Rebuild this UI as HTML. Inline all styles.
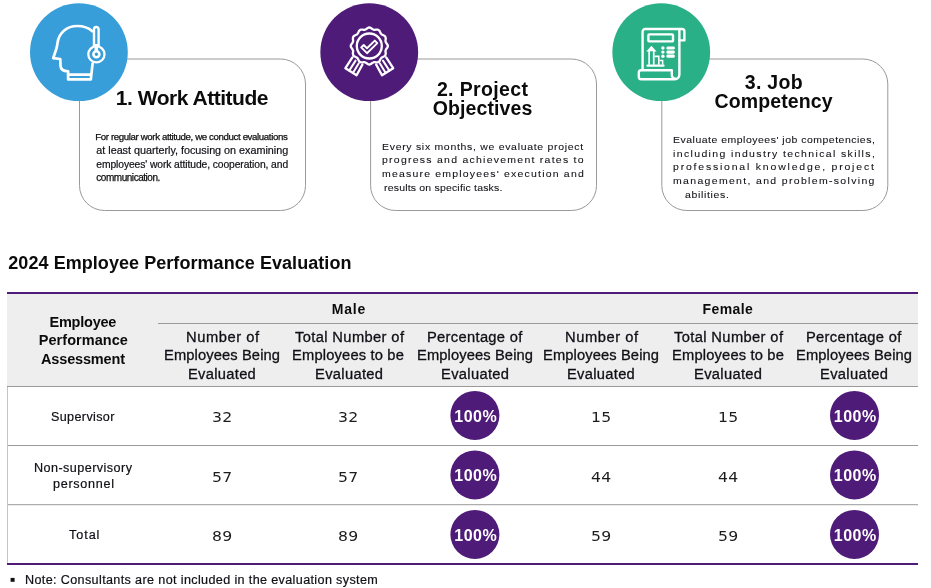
<!DOCTYPE html>
<html lang="en">
<head>
<meta charset="utf-8">
<title>2024 Employee Performance Evaluation</title>
<style>
html,body{margin:0;padding:0;background:#fff;}
body{width:931px;height:588px;position:relative;overflow:hidden;font-family:"Liberation Sans",sans-serif;color:#121212;}
.abs{position:absolute;}
.t{position:absolute;white-space:pre;line-height:40px;transform-origin:0 0;font-family:"Liberation Sans",sans-serif;color:#141414;}
.b{font-weight:bold;color:#0b0b0b;}
.n{font-family:"DejaVu Sans","Liberation Sans",sans-serif;color:#1c1c1c;}
.w{color:#fff;}
.s4{-webkit-text-stroke:0.08px #15151c;color:#101016;}
.s3{-webkit-text-stroke:0.2px #15151c;color:#0e0e14;}
.s2{-webkit-text-stroke:0.3px #15151c;color:#0e0e14;}
.s{-webkit-text-stroke:0.25px #141414;color:#0c0c0c;}
#art{position:absolute;left:0;top:0;}
</style>
</head>
<body>
<svg id="art" width="931" height="588" viewBox="0 0 931 588">
  <!-- cards -->
  <g fill="#fff" stroke="#999" stroke-width="1">
    <rect x="79.5" y="59" width="226" height="151.5" rx="25" ry="25"/>
    <rect x="370.6" y="59" width="225.9" height="151.5" rx="25" ry="25"/>
    <rect x="661.8" y="59" width="226" height="151.5" rx="25" ry="25"/>
  </g>
  <!-- circles -->
  <circle cx="78.9" cy="52.2" r="48.9" fill="#379eda"/>
  <circle cx="369.25" cy="52.2" r="48.9" fill="#4e1b78"/>
  <circle cx="661.25" cy="52.2" r="48.9" fill="#29b087"/>
  <!-- icon 1: head with headset -->
  <g fill="none" stroke="#fff" stroke-width="2.7" stroke-linejoin="round" stroke-linecap="round">
    <path d="M92.4 31.2 C88.6 27.8 83.4 26 77.4 26 C66.4 26 59 33 57.6 42.4 C57.2 44.6 57 46.4 56.6 48 L53.2 58.2 L60.3 59 L60.5 65.6 C60.7 69.8 63.2 71.3 68.1 71.3 L68.1 79.4 L90.8 79.4 L92.6 63.6"/>
    <path d="M68.2 74.6 L90.9 74.6"/>
    <path d="M94.0 46 L94.0 29.3 A2.3 2.3 0 0 1 98.6 29.3 L98.6 46" stroke-width="2.4"/>
    <circle cx="96.4" cy="54.3" r="8.1" stroke-width="2.3"/>
    <circle cx="96.4" cy="54.3" r="3" stroke-width="2.6"/>
    <path d="M96.3 44 L96.3 50.6" stroke-width="3.6" stroke-linecap="butt"/>
  </g>
<!-- icon 2: award rosette -->
  <g fill="none" stroke="#fff" stroke-width="2.3" stroke-linejoin="round" stroke-linecap="round">
    <path d="M369.3 27.5 L369.8 27.5 L370.3 27.7 L370.7 27.9 L371.2 28.2 L371.6 28.5 L372.0 28.8 L372.4 29.1 L372.8 29.3 L373.3 29.5 L373.7 29.7 L374.1 29.8 L374.6 29.8 L375.1 29.8 L375.6 29.7 L376.1 29.6 L376.6 29.6 L377.1 29.6 L377.6 29.7 L378.1 29.8 L378.6 30.0 L378.9 30.3 L379.3 30.6 L379.6 31.0 L379.8 31.5 L380.1 32.0 L380.3 32.4 L380.5 32.9 L380.7 33.3 L381.0 33.7 L381.3 34.0 L381.6 34.3 L382.0 34.6 L382.4 34.8 L382.9 35.0 L383.3 35.2 L383.8 35.5 L384.3 35.7 L384.7 36.0 L385.0 36.4 L385.3 36.8 L385.5 37.2 L385.6 37.7 L385.7 38.2 L385.7 38.7 L385.7 39.2 L385.6 39.7 L385.5 40.2 L385.5 40.7 L385.5 41.2 L385.6 41.6 L385.8 42.0 L386.0 42.5 L386.2 42.9 L386.5 43.3 L386.8 43.7 L387.1 44.1 L387.4 44.6 L387.6 45.0 L387.8 45.5 L387.8 46.0 L387.8 46.5 L387.6 47.0 L387.4 47.4 L387.1 47.9 L386.8 48.3 L386.5 48.7 L386.2 49.1 L386.0 49.5 L385.8 50.0 L385.6 50.4 L385.5 50.8 L385.5 51.3 L385.5 51.8 L385.6 52.3 L385.7 52.8 L385.7 53.3 L385.7 53.8 L385.6 54.3 L385.5 54.8 L385.3 55.2 L385.0 55.6 L384.7 56.0 L384.3 56.3 L383.8 56.5 L383.3 56.8 L382.9 57.0 L382.4 57.2 L382.0 57.4 L381.6 57.7 L381.3 58.0 L381.0 58.3 L380.7 58.7 L380.5 59.1 L380.3 59.6 L380.1 60.0 L379.8 60.5 L379.6 61.0 L379.3 61.4 L378.9 61.7 L378.6 62.0 L378.1 62.2 L377.6 62.3 L377.1 62.4 L376.6 62.4 L376.1 62.4 L375.6 62.3 L375.1 62.2 L374.6 62.2 L374.1 62.2 L373.7 62.3 L373.3 62.5 L372.8 62.7 L372.4 62.9 L372.0 63.2 L371.6 63.5 L371.2 63.8 L370.7 64.1 L370.3 64.3 L369.8 64.5 L369.3 64.5 L368.8 64.5 L368.3 64.3 L367.9 64.1 L367.4 63.8 L367.0 63.5 L366.6 63.2 L366.2 62.9 L365.8 62.7 L365.3 62.5 L364.9 62.3 L364.5 62.2 L364.0 62.2 L363.5 62.2 L363.0 62.3 L362.5 62.4 L362.0 62.4 L361.5 62.4 L361.0 62.3 L360.5 62.2 L360.1 62.0 L359.7 61.7 L359.3 61.4 L359.0 61.0 L358.8 60.5 L358.5 60.0 L358.3 59.6 L358.1 59.1 L357.9 58.7 L357.6 58.3 L357.3 58.0 L357.0 57.7 L356.6 57.4 L356.2 57.2 L355.7 57.0 L355.3 56.8 L354.8 56.5 L354.3 56.3 L353.9 56.0 L353.6 55.6 L353.3 55.3 L353.1 54.8 L353.0 54.3 L352.9 53.8 L352.9 53.3 L352.9 52.8 L353.0 52.3 L353.1 51.8 L353.1 51.3 L353.1 50.8 L353.0 50.4 L352.8 50.0 L352.6 49.5 L352.4 49.1 L352.1 48.7 L351.8 48.3 L351.5 47.9 L351.2 47.4 L351.0 47.0 L350.8 46.5 L350.8 46.0 L350.8 45.5 L351.0 45.0 L351.2 44.6 L351.5 44.1 L351.8 43.7 L352.1 43.3 L352.4 42.9 L352.6 42.5 L352.8 42.0 L353.0 41.6 L353.1 41.2 L353.1 40.7 L353.1 40.2 L353.0 39.7 L352.9 39.2 L352.9 38.7 L352.9 38.2 L353.0 37.7 L353.1 37.2 L353.3 36.8 L353.6 36.4 L353.9 36.0 L354.3 35.7 L354.8 35.5 L355.3 35.2 L355.7 35.0 L356.2 34.8 L356.6 34.6 L357.0 34.3 L357.3 34.0 L357.6 33.7 L357.9 33.3 L358.1 32.9 L358.3 32.4 L358.5 32.0 L358.8 31.5 L359.0 31.0 L359.3 30.6 L359.7 30.3 L360.1 30.0 L360.5 29.8 L361.0 29.7 L361.5 29.6 L362.0 29.6 L362.5 29.6 L363.0 29.7 L363.5 29.8 L364.0 29.8 L364.5 29.8 L364.9 29.7 L365.3 29.5 L365.8 29.3 L366.2 29.1 L366.6 28.8 L367.0 28.5 L367.4 28.2 L367.9 27.9 L368.3 27.7 L368.8 27.5 L369.3 27.5 Z"/>
    <circle cx="369.3" cy="46" r="12.5"/>
    <path d="M361.2 47.4 L363.7 45 L367 48.2 L374.8 40.6 L377.3 43.1 L367 53.2 Z" stroke-width="1.9"/>
    <path d="M352.4 57.4 L345.4 68.2 L356.6 75.2 L362.4 64.6"/>
    <path d="M355.6 60.6 L349.2 70.6 M358.8 63.2 L352.9 72.9" stroke-width="2"/>
    <path d="M386.2 57.4 L393.2 68.2 L382 75.2 L376.2 64.6"/>
    <path d="M383 60.6 L389.4 70.6 M379.8 63.2 L385.7 72.9" stroke-width="2"/>
  </g>
<!-- icon 3: report scroll -->
  <g fill="none" stroke="#fff" stroke-width="2.4" stroke-linejoin="round" stroke-linecap="round">
    <path d="M642.6 69.6 L642.6 31.6 A2.6 2.6 0 0 1 645.2 29 L682 29 A2.4 2.4 0 0 1 684.4 31.4 L684.4 40.4 L679.4 40.4"/>
    <path d="M679.4 29.4 L679.4 74.6 A4.6 4.6 0 0 1 674.8 79.2 L641.2 79.2 A2.4 2.4 0 0 1 638.8 76.8 L638.8 72.6 A2.4 2.4 0 0 1 641.2 70.2 L671.8 70.2 L671.8 74.8 A3.6 3.6 0 0 0 675.4 78.6"/>
    <rect x="648.4" y="34.4" width="24.6" height="7" rx="1"/>
  </g>
  <g fill="#fff" stroke="none">
    <rect x="646.4" y="64.6" width="18.2" height="2.1" rx="1"/>
    <path d="M651.4 45.8 L656.6 51.4 L654.6 51.4 L654.6 64.8 L652.9 64.8 L652.9 51.2 L650 51.2 L650 64.8 L648.3 64.8 L648.3 51.4 L646.3 51.4 Z"/>
    <path d="M654.6 55.6 L659.6 55.6 L659.6 64.8 L658 64.8 L658 57.2 L654.6 57.2 Z"/>
    <path d="M659.6 59.8 L663.4 59.8 L663.4 64.8 L661.9 64.8 L661.9 61.3 L659.6 61.3 Z"/>
    <circle cx="662.9" cy="48" r="1.7"/>
    <circle cx="662.9" cy="52.1" r="1.7"/>
    <circle cx="662.9" cy="56.2" r="1.7"/>
    <rect x="666.4" y="46.4" width="8.4" height="3.2" rx="1.4"/>
    <rect x="666.4" y="50.5" width="8.4" height="3.2" rx="1.4"/>
    <rect x="666.4" y="54.6" width="8.4" height="3.2" rx="1.4"/>
  </g>

  <!-- table -->
  <rect x="7" y="292" width="911" height="2" fill="#4e1b78"/>
  <rect x="7" y="294" width="911" height="92" fill="#eeeeee"/>
  <rect x="158" y="323" width="760" height="1" fill="#9a9a9a"/>
  <rect x="7" y="386" width="911" height="1" fill="#9a9a9a"/>
  <rect x="7" y="445" width="911" height="1" fill="#9a9a9a"/>
  <rect x="7" y="504.2" width="911" height="1" fill="#9a9a9a"/>
  <rect x="7" y="387" width="1" height="176" fill="#c4c4c4"/>
  <rect x="7" y="563" width="911" height="2" fill="#4e1b78"/>
  <!-- percentage discs -->
  <g fill="#4e1b78">
    <circle cx="474.9" cy="415.4" r="24.5"/>
    <circle cx="474.9" cy="474.9" r="24.5"/>
    <circle cx="474.9" cy="534.4" r="24.5"/>
    <circle cx="854.5" cy="415.4" r="24.5"/>
    <circle cx="854.5" cy="474.9" r="24.5"/>
    <circle cx="854.5" cy="534.4" r="24.5"/>
  </g>
  <!-- bullet -->
  <rect x="10.6" y="577.9" width="4" height="3.9" fill="#111"/>
</svg>
<div class="t b" style="left:115.80px;top:78.00px;font-size:21px;letter-spacing:-0.480px;">1. Work Attitude</div>
<div class="t b" style="left:436.90px;top:68.80px;font-size:19.5px;letter-spacing:0.356px;">2. Project</div>
<div class="t b" style="left:432.80px;top:87.90px;font-size:19.5px;letter-spacing:0.089px;">Objectives</div>
<div class="t b" style="left:744.80px;top:62.00px;font-size:19.5px;letter-spacing:0.280px;">3. Job</div>
<div class="t b" style="left:714.50px;top:80.80px;font-size:19.5px;letter-spacing:0.111px;">Competency</div>
<!-- body text -->
<div class="t s" style="left:95.30px;top:116.90px;font-size:9.7px;letter-spacing:-0.388px;">For regular work attitude, we conduct evaluations</div>
<div class="t s3" style="left:96.30px;top:129.90px;font-size:10.8px;letter-spacing:-0.015px;">at least quarterly, focusing on examining</div>
<div class="t s3" style="left:96.30px;top:144.80px;font-size:10.3px;letter-spacing:-0.088px;">employees&#39; work attitude, cooperation, and</div>
<div class="t s" style="left:96.30px;top:158.20px;font-size:10px;letter-spacing:-0.462px;">communication.</div>
<div class="t s4" style="left:382.10px;top:127.00px;font-size:9.8px;letter-spacing:0.654px;transform:scaleX(1.07);">Every six months, we evaluate project</div>
<div class="t s4" style="left:382.10px;top:139.80px;font-size:9.8px;letter-spacing:1.174px;transform:scaleX(1.07);">progress and achievement rates to</div>
<div class="t s4" style="left:382.10px;top:153.50px;font-size:9.8px;letter-spacing:1.121px;transform:scaleX(1.07);">measure employees&#39; execution and</div>
<div class="t s4" style="left:383.90px;top:167.50px;font-size:9.8px;letter-spacing:0.179px;transform:scaleX(1.07);">results on specific tasks.</div>
<div class="t s4" style="left:673.20px;top:120.10px;font-size:9.8px;letter-spacing:0.467px;transform:scaleX(1.07);">Evaluate employees&#39; job competencies,</div>
<div class="t s4" style="left:673.20px;top:133.90px;font-size:9.8px;letter-spacing:1.282px;transform:scaleX(1.07);">including industry technical skills,</div>
<div class="t s4" style="left:673.20px;top:147.10px;font-size:9.8px;letter-spacing:1.682px;transform:scaleX(1.07);">professional knowledge, project</div>
<div class="t s4" style="left:673.20px;top:160.90px;font-size:9.8px;letter-spacing:1.246px;transform:scaleX(1.07);">management, and problem-solving</div>
<div class="t s4" style="left:685.40px;top:174.70px;font-size:9.8px;letter-spacing:0.623px;transform:scaleX(1.07);">abilities.</div>
<!-- heading -->
<div class="t b" style="left:8.30px;top:243.40px;font-size:18px;letter-spacing:0.057px;">2024 Employee Performance Evaluation</div>
<!-- table header -->
<div class="t b" style="left:49.50px;top:302.10px;font-size:14.5px;letter-spacing:-0.229px;">Employee</div>
<div class="t b" style="left:38.80px;top:319.80px;font-size:14.5px;letter-spacing:0.040px;">Performance</div>
<div class="t b" style="left:41.00px;top:338.50px;font-size:14.5px;letter-spacing:-0.156px;">Assessment</div>
<div class="t b" style="left:331.70px;top:288.60px;font-size:14px;letter-spacing:0.800px;">Male</div>
<div class="t b" style="left:702.60px;top:288.60px;font-size:14px;letter-spacing:0.400px;">Female</div>
<div class="t s2" style="left:185.50px;top:316.60px;font-size:14px;letter-spacing:0.524px;transform:scaleX(1.05);">Number of</div>
<div class="t s2" style="left:163.90px;top:335.30px;font-size:14px;letter-spacing:0.109px;transform:scaleX(1.05);">Employees Being</div>
<div class="t s2" style="left:188.00px;top:353.60px;font-size:14px;letter-spacing:0.286px;transform:scaleX(1.05);">Evaluated</div>
<div class="t s2" style="left:294.50px;top:316.60px;font-size:14px;letter-spacing:0.354px;transform:scaleX(1.05);">Total Number of</div>
<div class="t s2" style="left:292.40px;top:335.30px;font-size:14px;letter-spacing:0.163px;transform:scaleX(1.05);">Employees to be</div>
<div class="t s2" style="left:314.60px;top:353.60px;font-size:14px;letter-spacing:0.310px;transform:scaleX(1.05);">Evaluated</div>
<div class="t s2" style="left:427.10px;top:316.60px;font-size:14px;letter-spacing:0.302px;transform:scaleX(1.05);">Percentage of</div>
<div class="t s2" style="left:416.60px;top:335.30px;font-size:14px;letter-spacing:0.109px;transform:scaleX(1.05);">Employees Being</div>
<div class="t s2" style="left:441.10px;top:353.60px;font-size:14px;letter-spacing:0.310px;transform:scaleX(1.05);">Evaluated</div>
<div class="t s2" style="left:564.85px;top:316.60px;font-size:14px;letter-spacing:0.524px;transform:scaleX(1.05);">Number of</div>
<div class="t s2" style="left:543.25px;top:335.30px;font-size:14px;letter-spacing:0.109px;transform:scaleX(1.05);">Employees Being</div>
<div class="t s2" style="left:567.35px;top:353.60px;font-size:14px;letter-spacing:0.286px;transform:scaleX(1.05);">Evaluated</div>
<div class="t s2" style="left:673.85px;top:316.60px;font-size:14px;letter-spacing:0.354px;transform:scaleX(1.05);">Total Number of</div>
<div class="t s2" style="left:671.75px;top:335.30px;font-size:14px;letter-spacing:0.163px;transform:scaleX(1.05);">Employees to be</div>
<div class="t s2" style="left:693.95px;top:353.60px;font-size:14px;letter-spacing:0.310px;transform:scaleX(1.05);">Evaluated</div>
<div class="t s2" style="left:806.45px;top:316.60px;font-size:14px;letter-spacing:0.302px;transform:scaleX(1.05);">Percentage of</div>
<div class="t s2" style="left:795.95px;top:335.30px;font-size:14px;letter-spacing:0.109px;transform:scaleX(1.05);">Employees Being</div>
<div class="t s2" style="left:820.45px;top:353.60px;font-size:14px;letter-spacing:0.310px;transform:scaleX(1.05);">Evaluated</div>
<!-- table body -->
<div class="t s3" style="left:50.70px;top:396.90px;font-size:12px;letter-spacing:0.339px;transform:scaleX(1.05);">Supervisor</div>
<div class="t s3" style="left:34.10px;top:448.00px;font-size:12px;letter-spacing:0.422px;transform:scaleX(1.05);">Non-supervisory</div>
<div class="t s3" style="left:52.80px;top:463.80px;font-size:12px;letter-spacing:0.667px;transform:scaleX(1.05);">personnel</div>
<div class="t s3" style="left:68.50px;top:514.70px;font-size:12px;letter-spacing:0.905px;transform:scaleX(1.05);">Total</div>
<div class="t n" style="left:211.90px;top:397.00px;font-size:14.5px;letter-spacing:0.370px;transform:scaleX(1.08);">32</div>
<div class="t n" style="left:338.30px;top:397.00px;font-size:14.5px;letter-spacing:0.370px;transform:scaleX(1.08);">32</div>
<div class="t n" style="left:591.40px;top:397.00px;font-size:14.5px;letter-spacing:0.185px;transform:scaleX(1.08);">15</div>
<div class="t n" style="left:717.90px;top:397.00px;font-size:14.5px;letter-spacing:0.185px;transform:scaleX(1.08);">15</div>
<div class="t n" style="left:211.90px;top:456.80px;font-size:14.5px;letter-spacing:0.370px;transform:scaleX(1.08);">57</div>
<div class="t n" style="left:338.30px;top:456.80px;font-size:14.5px;letter-spacing:0.370px;transform:scaleX(1.08);">57</div>
<div class="t n" style="left:591.30px;top:456.80px;font-size:14.5px;letter-spacing:0.370px;transform:scaleX(1.08);">44</div>
<div class="t n" style="left:717.80px;top:456.80px;font-size:14.5px;letter-spacing:0.370px;transform:scaleX(1.08);">44</div>
<div class="t n" style="left:211.90px;top:515.80px;font-size:14.5px;letter-spacing:0.370px;transform:scaleX(1.08);">89</div>
<div class="t n" style="left:338.30px;top:515.80px;font-size:14.5px;letter-spacing:0.370px;transform:scaleX(1.08);">89</div>
<div class="t n" style="left:591.30px;top:515.80px;font-size:14.5px;letter-spacing:0.370px;transform:scaleX(1.08);">59</div>
<div class="t n" style="left:717.80px;top:515.80px;font-size:14.5px;letter-spacing:0.370px;transform:scaleX(1.08);">59</div>
<div class="t b w" style="left:454.30px;top:396.90px;font-size:16px;letter-spacing:0.467px;">100%</div>
<div class="t b w" style="left:454.30px;top:456.00px;font-size:16px;letter-spacing:0.467px;">100%</div>
<div class="t b w" style="left:454.30px;top:515.90px;font-size:16px;letter-spacing:0.467px;">100%</div>
<div class="t b w" style="left:833.80px;top:396.90px;font-size:16px;letter-spacing:0.467px;">100%</div>
<div class="t b w" style="left:833.80px;top:456.00px;font-size:16px;letter-spacing:0.467px;">100%</div>
<div class="t b w" style="left:833.80px;top:515.90px;font-size:16px;letter-spacing:0.467px;">100%</div>
<!-- note -->
<div class="t s3" style="left:24.80px;top:559.80px;font-size:12px;letter-spacing:0.342px;transform:scaleX(1.05);">Note: Consultants are not included in the evaluation system</div>
</body>
</html>
